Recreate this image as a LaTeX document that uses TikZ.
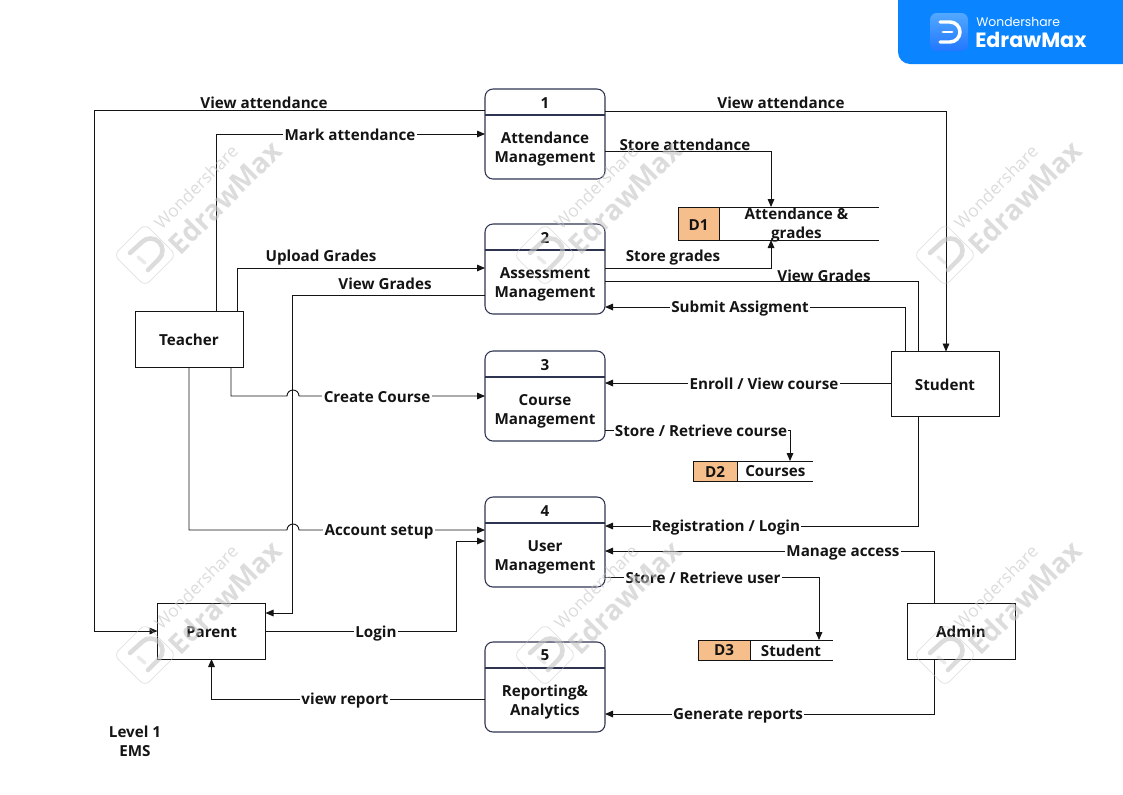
\documentclass[tikz,border=0pt]{standalone}
\usepackage{fontspec}
\setmainfont{Open Sans}
\newfontfamily\badgefont{Poppins}
\usepackage{xcolor}
\usetikzlibrary{arrows.meta,positioning,calc}
\definecolor{oline}{HTML}{141414}
\definecolor{oproc}{HTML}{2E3450}
\definecolor{ostore}{HTML}{F6BE8A}
\definecolor{obadge}{HTML}{0A84FF}
\definecolor{oicontop}{HTML}{52A8FF}
\definecolor{oiconbot}{HTML}{2277FF}
\definecolor{omark}{HTML}{C4C4C4}

\newcommand{\wmark}[3]{%
  \node[wmlogo] (#1logo) at (#2,#3) {};
  \draw[wmglyph] ($(#1logo)+(-15,-2)$) -- ($(#1logo)+(-3,-13)$)
    arc[start angle=135,end angle=-45,radius=9pt] -- ($(#1logo)+(3,15)$);
  \draw[wmglyph,line width=2.6pt,opacity=0.35] ($(#1logo)+(-7,2)$) -- ($(#1logo)+(0,8)$);
  \node[wmsmall] (#1small) at ($(#1logo)+(51,-68)$) {Wondershare};
  \node[wmbig] (#1big) at ($(#1logo)+(80,-58)$) {EdrawMax};
}

\begin{document}
\begin{tikzpicture}[
  x=0.75pt,y=-0.75pt,
  font=\fontsize{11.4}{14.2}\selectfont\bfseries,
  text=oline,
  flow/.style={draw=oline,line width=0.7pt,-{Triangle[length=6pt,width=5pt]}},
  plain/.style={draw=oline,line width=0.7pt},
  procbox/.style={draw=oproc,line width=0.8pt,rounded corners=6pt,
                  minimum width=90pt,minimum height=67.5pt,outer sep=0pt},
  procline/.style={draw=oproc,line width=0.8pt},
  ent/.style={draw=oline,line width=0.7pt,minimum width=81pt,outer sep=0pt,
              inner sep=0pt,text height=10.5pt},
  storeid/.style={draw=oline,line width=0.7pt,fill=ostore,outer sep=0pt,inner sep=0pt},
  txt/.style={align=center,inner sep=0pt,yshift=-1.2pt},
  flowlbl/.style={fill=white,inner sep=1pt,align=center,yshift=-0.6pt},
  toplbl/.style={inner sep=0pt,align=center,yshift=-0.6pt},
  wmlogo/.style={draw=omark,line width=0.6pt,rounded corners=5pt,rotate=45,
                 minimum size=33pt,inner sep=0pt,opacity=0.5},
  wmglyph/.style={draw=omark,line width=3.4pt,line cap=round,opacity=0.6},
  wmsmall/.style={text=omark,rotate=45,opacity=0.6,inner sep=0pt,
                  font=\fontsize{13}{16}\selectfont\mdseries},
  wmbig/.style={text=omark,rotate=45,opacity=0.6,inner sep=0pt,
                font=\fontsize{21}{24}\selectfont\bfseries},
]
\useasboundingbox (0,0) rectangle (1123,794);

% badge
\fill[obadge,rounded corners=9pt] (898,-20) rectangle (1150,64);
\node[top color=oicontop,bottom color=oiconbot,rounded corners=5pt,minimum size=28.5pt,inner sep=0pt] (badgeicon) at (949,32) {};
\draw[white,line width=2.6pt,line cap=round] ($(badgeicon)+(-9,-10)$) -- ($(badgeicon)+(1,-10)$)
  arc[start angle=90,end angle=-90,radius=7.5pt] -- ($(badgeicon)+(-9,10)$);
\draw[white,line width=2.2pt,line cap=round] ($(badgeicon)+(-6,0)$) -- ($(badgeicon)+(3,0)$);
\node[inner sep=0pt,anchor=west,text=white,font=\badgefont\fontsize{9.3}{12}\selectfont] (badgetop) at (976,22) {Wondershare};
\node[inner sep=0pt,anchor=west,text=white,font=\badgefont\fontsize{15.5}{19}\selectfont\bfseries] (badgemain) at (975,40) {EdrawMax};

% processes
\node[procbox] at (545,134) (p1) {};
\node[procbox,below=33.75pt of p1] (p2) {};
\node[procbox,below=27.75pt of p2] (p3) {};
\node[procbox,below=42pt of p3] (p4) {};
\node[procbox,below=41.25pt of p4] (p5) {};

\node[txt] at ($(p1.north)+(0,12)$) (p1num) {1};
\node[txt] at ($(p2.north)+(0,12)$) (p2num) {2};
\node[txt] at ($(p3.north)+(0,12)$) (p3num) {3};
\node[txt] at ($(p4.north)+(0,12)$) (p4num) {4};
\node[txt] at ($(p5.north)+(0,12)$) (p5num) {5};

\draw[procline] ($(p1.north west)+(0,26)$) -- ($(p1.north east)+(0,26)$);
\draw[procline] ($(p2.north west)+(0,26)$) -- ($(p2.north east)+(0,26)$);
\draw[procline] ($(p3.north west)+(0,26)$) -- ($(p3.north east)+(0,26)$);
\draw[procline] ($(p4.north west)+(0,26)$) -- ($(p4.north east)+(0,26)$);
\draw[procline] ($(p5.north west)+(0,26)$) -- ($(p5.north east)+(0,26)$);

\node[txt] at ($(p1.center)+(0,13)$) (p1txt) {Attendance\\Management};
\node[txt] at ($(p2.center)+(0,13.5)$) (p2txt) {Assessment\\Management};
\node[txt] at ($(p3.center)+(0,13.5)$) (p3txt) {Course\\Management};
\node[txt] at ($(p4.center)+(0,13.5)$) (p4txt) {User\\Management};
\node[txt] at ($(p5.center)+(0,13)$) (p5txt) {Reporting\&\\Analytics};

% external entities
\node[ent,minimum height=42pt] at (189,339) (teacher) {Teacher};
\node[ent,minimum height=48.75pt] at (945,384) (student) {Student};
\node[ent,minimum height=42pt] at (211.5,631) (parent) {Parent};
\node[ent,minimum height=42pt] at (961,631) (admin) {Admin};

% data stores
\node[storeid,minimum width=30.75pt,minimum height=24.75pt,text height=11pt] at (698.5,223.5) (d1) {D1};
\node[txt,right=19pt of d1] (d1txt) {Attendance \&\\grades};
\coordinate (d1end) at (879,223.5);
\draw[plain] (d1.north east) -- (d1.north -| d1end);
\draw[plain] (d1.south east) -- (d1.south -| d1end);

\node[storeid,minimum width=33pt,minimum height=15pt,text height=9.5pt] at (715,471) (d2) {D2};
\node[txt,right=6pt of d2,yshift=0.8pt] (d2txt) {Courses};
\coordinate (d2end) at (813,471);
\draw[plain] (d2.north east) -- (d2.north -| d2end);
\draw[plain] (d2.south east) -- (d2.south -| d2end);

\node[storeid,minimum width=39pt,minimum height=15pt] at (724,650) (d3) {D3};
\node[txt,right=8pt of d3,yshift=0.8pt] (d3txt) {Student};
\coordinate (d3end) at (833,650);
\draw[plain] (d3.north east) -- (d3.north -| d3end);
\draw[plain] (d3.south east) -- (d3.south -| d3end);

% connectors
\draw[flow] ($(p1.west)+(0,-24)$) -| ($(parent.west)+(-63,0)$) -- (parent.west);
\draw[flow] ($(p1.east)+(0,-23)$) -| ($(student.north)+(1,0)$);
\draw[flow] ($(teacher.north)+(27,0)$) |- (p1.west);
\draw[flow] ($(teacher.north)+(48,0)$) |- ($(p2.west)+(0,-1)$);
\draw[flow] ($(p2.west)+(0,26)$) -| ($(parent.north east)+(27,10)$) -- ($(parent.north east)+(0,10)$);
\coordinate (jumpa) at ($(p3.west)+(-198,0)$);
\coordinate (jumpb) at ($(p4.west)+(-198,-12)$);
\draw[flow] ($(teacher.south)+(42,0)$) |- (jumpa) arc[start angle=180,end angle=0,radius=4.5pt] -- (p3.west);
\draw[flow] (teacher.south) |- (jumpb) arc[start angle=180,end angle=0,radius=4.5pt] -- ($(p4.west)+(0,-12)$);
\draw[flow] (parent.east) -- ($(parent.east)+(191,0)$) |- ($(p4.west)+(0,-1)$);
\draw[flow] ($(p1.east)+(0,17)$) -| (d1.north -| 771,0);
\draw[flow] ($(p2.east)+(0,-1)$) -| (d1.south -| 771,0);
\draw[plain] ($(p2.east)+(0,12.5)$) -| ($(student.north)+(-27,0)$);
\draw[flow] ($(student.north)+(-40,0)$) |- ($(p2.east)+(0,38)$);
\draw[flow] ($(student.west)+(0,-1)$) -- ($(p3.east)+(0,-13)$);
\draw[flow] ($(p3.east)+(0,34)$) -| (d2.north -| 790,0);
\draw[flow] ($(student.south)+(-27,0)$) |- ($(p4.east)+(0,-16)$);
\draw[flow] ($(admin.north)+(-27,0)$) |- ($(p4.east)+(0,9)$);
\draw[flow] ($(p4.east)+(0,35)$) -| (d3.north -| 819,0);
\draw[flow] ($(admin.south)+(-27,0)$) |- ($(p5.east)+(0,27)$);
\draw[flow] (p5.west |- 0,699) -| (parent.south);

% connector labels
\node[toplbl] at (264,102) (lblviewa) {View attendance};
\node[toplbl] at (781,102) (lblviewb) {View attendance};
\node[flowlbl] at (350,134) (lblmark) {Mark attendance};
\node[toplbl] at (321,257) (lblupload) {Upload Grades};
\node[toplbl] at (385,283) (lblgrades) {View Grades};
\node[flowlbl] at (377,396) (lblcreate) {Create Course};
\node[flowlbl] at (379,531) (lblaccount) {Account setup};
\node[flowlbl] at (376,633) (lbllogin) {Login};
\node[toplbl] at (685,144) (lblstorea) {Store attendance};
\node[toplbl] at (673,257) (lblstoreg) {Store grades};
\node[toplbl] at (824,275) (lblgradesb) {View Grades};
\node[flowlbl] at (740,308) (lblsubmit) {Submit Assigment};
\node[flowlbl] at (764,383) (lblenroll) {Enroll / View course};
\node[flowlbl] at (701,430) (lblcourse) {Store / Retrieve course};
\node[flowlbl] at (726,527) (lblreg) {Registration / Login};
\node[flowlbl] at (843,552) (lblmanage) {Manage access};
\node[flowlbl] at (703,577) (lbluser) {Store / Retrieve user};
\node[flowlbl] at (738,715) (lblreports) {Generate reports};
\node[flowlbl] at (345,700) (lblreport) {view report};

\node[txt] at (135,740) (levelnote) {Level 1\\EMS};

% watermarks
\wmark{wa}{145}{255}
\wmark{wb}{545}{255}
\wmark{wc}{945}{255}
\wmark{wd}{145}{655}
\wmark{we}{545}{655}
\wmark{wf}{945}{655}
\end{tikzpicture}
\end{document}
